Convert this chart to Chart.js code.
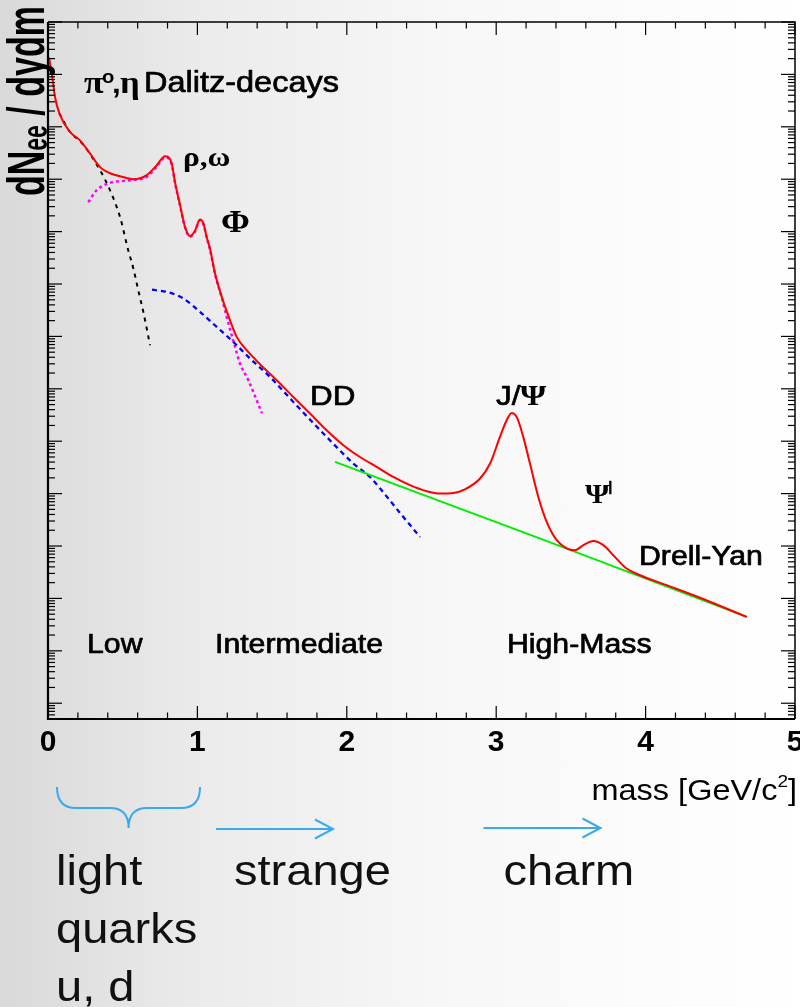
<!DOCTYPE html>
<html><head><meta charset="utf-8">
<script src="https://cdn.jsdelivr.net/npm/chart.js@4.4.1/dist/chart.umd.min.js"></script>
<style>
html,body{margin:0;padding:0;width:800px;height:1007px;overflow:hidden;
background:linear-gradient(to right,#d9d9d9 0%,#ebebeb 25%,#f7f7f7 55%,#ffffff 100%);}
canvas{display:block;}
</style></head><body>
<canvas id="c" width="800" height="1007"></canvas>
<script>
// ---- data (mass in GeV/c^2, yield in arbitrary log units) ----
const xTickValues = [0, 1, 2, 3, 4, 5];
const totalMass = [0.007,0.029,0.047,0.076,0.147,0.214,0.281,0.348,0.415,0.502,0.569,0.661,0.728,0.783,0.828,0.850,0.884,0.917,0.950,0.984,1.017,1.040,1.062,1.084,1.118,1.163,1.218,1.263,1.330,1.419,1.531,1.642,1.754,1.865,1.977,2.088,2.200,2.311,2.423,2.535,2.624,2.713,2.791,2.892,2.959,3.025,3.070,3.104,3.137,3.181,3.226,3.282,3.338,3.405,3.472,3.527,3.583,3.650,3.717,3.784,3.873,3.963,4.141,4.364,4.677];
const totalYield = [2.1e12,8.9e11,3.7e11,1.8e11,8.0e10,5.5e10,3.1e10,1.7e10,1.3e10,1.1e10,1.0e10,1.2e10,1.85e10,2.75e10,2.0e10,8.8e9,3.2e9,1.23e9,8.2e8,1.04e9,1.7e9,1.43e9,7.9e8,4.75e8,1.58e8,5.67e7,2.04e7,9.8e6,5.45e6,2.95e6,1.46e6,7.0e5,3.38e5,1.62e5,8.4e4,5.0e4,3.23e4,2.08e4,1.45e4,1.11e4,1.0e4,1.03e4,1.21e4,1.94e4,3.75e4,1.21e5,2.52e5,3.47e5,2.91e5,1.21e5,3.75e4,8.65e3,2.88e3,1.29e3,900,832,1.04e3,1.25e3,1.04e3,667,372,277,179,103,44.4];
const drellYanMass = [1.921, 3.30, 4.677];
const drellYanYield = [4.03e4, 1.37e3, 44.4];
const charmMass = [0.696,0.795,0.906,1.017,1.129,1.240,1.352,1.486,1.642,1.865,2.044,2.155,2.278,2.356,2.490];
const charmYield = [7.78e7,7.07e7,5.29e7,2.94e7,1.52e7,7.85e6,3.79e6,1.69e6,5.62e5,1.21e5,3.75e4,2.08e4,8.06e3,4.28e3,1.49e3];
const resonanceMass = [0.270,0.326,0.415,0.549,0.661,0.728,0.783,0.828,0.850,0.884,0.917,0.950,0.984,1.017,1.040,1.062,1.084,1.118,1.163,1.196,1.252,1.285,1.341,1.386,1.432];
const resonanceYield = [3.64e9,6.17e9,8.5e9,9.57e9,1.11e10,1.75e10,2.6e10,1.9e10,8.5e9,3.1e9,1.2e9,8.0e8,1.0e9,1.65e9,1.4e9,7.7e8,4.6e8,1.55e8,5.5e7,2.36e7,6.3e6,3.04e6,1.46e6,7.2e5,3.42e5];
const dalitzMass = [0.076,0.147,0.214,0.248,0.348,0.415,0.482,0.537,0.571,0.604,0.638,0.683];
const dalitzYield = [1.8e11,8.0e10,5.3e10,4.13e10,1.49e10,6.17e9,1.91e9,4.42e8,2.0e8,7.62e7,2.94e7,6.8e6];

const pts = (m, v) => m.map((x, i) => ({x: x, y: v[i]}));
const SX = 1.12;
const SANS = '"Liberation Sans", Arial, sans-serif';
const SERIF = '"Liberation Serif", "Times New Roman", serif';

function sText(ctx, txt, x, y, font, align, color, stroke) {
  ctx.save();
  ctx.translate(x, y);
  ctx.scale(SX, 1);
  ctx.font = font;
  ctx.fillStyle = color || '#000';
  ctx.textBaseline = 'alphabetic';
  ctx.textAlign = align || 'left';
  ctx.fillText(txt, 0, 0);
  if (stroke) { ctx.strokeStyle = color || '#000'; ctx.lineWidth = stroke; ctx.lineJoin = 'round'; ctx.strokeText(txt, 0, 0); }
  ctx.restore();
}

const framePlugin = {
  id: 'frame',
  afterDraw(chart) {
    const ctx = chart.ctx, a = chart.chartArea, xs = chart.scales.x, ys = chart.scales.y;
    ctx.save();
    ctx.strokeStyle = '#000';
    const line = (x1, y1, x2, y2) => { ctx.beginPath(); ctx.moveTo(x1, y1); ctx.lineTo(x2, y2); ctx.stroke(); };
    ctx.lineWidth = 2.2;
    ctx.beginPath(); ctx.moveTo(a.left, a.top); ctx.lineTo(a.left, a.bottom); ctx.lineTo(a.right, a.bottom); ctx.stroke();
    ctx.lineWidth = 1.5;
    ctx.beginPath(); ctx.moveTo(a.left, a.top); ctx.lineTo(a.right, a.top); ctx.lineTo(a.right, a.bottom); ctx.stroke();
    ctx.lineWidth = 1.2;
    for (let i = 0; i <= 25; i++) {
      const px = xs.getPixelForValue(i * 0.2);
      const len = i % 5 === 0 ? 13 : 6.5;
      line(px, a.bottom, px, a.bottom - len);
      line(px, a.top, px, a.top + len);
    }
    for (let d = -1; d <= 13; d++) {
      for (let k = 1; k <= 9; k++) {
        const v = k * Math.pow(10, d);
        if (v < ys.min * 0.999 || v > ys.max * 1.001) continue;
        const py = ys.getPixelForValue(v);
        const len = k === 1 ? 14 : 7;
        line(a.left, py, a.left + len, py);
        line(a.right, py, a.right - len, py);
      }
    }
    // in-plot annotations
    const B = 0.7;
    sText(ctx, 'π', 84, 93, 'bold 32px ' + SERIF);
    sText(ctx, 'o', 102, 83, 'bold 18px ' + SANS);
    sText(ctx, ',', 112, 93, 'bold 28px ' + SANS);
    sText(ctx, 'η', 120, 93, 'bold 31px ' + SERIF);
    sText(ctx, 'Dalitz-decays', 144, 92, '29px ' + SANS, 'left', '#000', B);
    sText(ctx, 'ρ,ω', 183, 166, 'bold 28px ' + SERIF);
    sText(ctx, 'Φ', 221, 232, 'bold 31px ' + SERIF);
    sText(ctx, 'DD', 310, 405, '28px ' + SANS, 'left', '#000', B);
    sText(ctx, 'J/', 496, 405, '28px ' + SANS, 'left', '#000', B);
    sText(ctx, 'Ψ', 520, 405, 'bold 30px ' + SERIF);
    sText(ctx, 'Ψ', 585, 503, 'bold 28px ' + SERIF);
    sText(ctx, 'l', 608, 494, '18px ' + SANS, 'left', '#000', 0.5);
    sText(ctx, 'Drell-Yan', 639, 565, '27px ' + SANS, 'left', '#000', B);
    sText(ctx, 'Low', 87, 653, '27px ' + SANS, 'left', '#000', B);
    sText(ctx, 'Intermediate', 215, 653, '27px ' + SANS, 'left', '#000', B);
    sText(ctx, 'High-Mass', 507, 653, '27px ' + SANS, 'left', '#000', B);
    // x-axis title, right-aligned at the frame edge
    ctx.save();
    ctx.translate(797, 800);
    ctx.scale(SX, 1);
    ctx.fillStyle = '#000'; ctx.textAlign = 'right'; ctx.textBaseline = 'alphabetic';
    let xr = 0;
    ctx.font = '29px ' + SANS; ctx.fillText(']', xr, 0); xr -= ctx.measureText(']').width;
    ctx.font = '17px ' + SANS; ctx.fillText('2', xr, -13); xr -= ctx.measureText('2').width;
    ctx.font = '29px ' + SANS; ctx.fillText('mass [GeV/c', xr, 0);
    ctx.restore();
    // y-axis title (rotated, partly clipped at the left edge)
    ctx.save();
    ctx.translate(44, 196);
    ctx.rotate(-Math.PI / 2);
    ctx.scale(1, 1.5);
    ctx.fillStyle = '#000'; ctx.textAlign = 'left'; ctx.textBaseline = 'alphabetic';
    let xx = 0;
    ctx.font = 'bold 34px ' + SANS; ctx.fillText('dN', xx, 0); xx += ctx.measureText('dN').width;
    ctx.font = 'bold 23px ' + SANS; ctx.fillText('ee', xx, 2); xx += ctx.measureText('ee').width;
    ctx.font = 'bold 34px ' + SANS; ctx.fillText(' / dydm', xx, 0);
    ctx.restore();
    // bottom annotations
    const big = '42px ' + SANS;
    sText(ctx, 'light', 56, 885, big, 'left', '#111');
    sText(ctx, 'quarks', 56, 943, big, 'left', '#111');
    sText(ctx, 'u, d', 56, 1001, big, 'left', '#111');
    sText(ctx, 'strange', 234, 885, big, 'left', '#111');
    sText(ctx, 'charm', 503.6, 885, big, 'left', '#111');
    ctx.strokeStyle = '#3aa9ee';
    ctx.lineWidth = 2;
    ctx.beginPath();
    ctx.moveTo(57, 787);
    ctx.quadraticCurveTo(57, 808, 76, 808);
    ctx.lineTo(110, 808);
    ctx.quadraticCurveTo(128.6, 808, 128.6, 828);
    ctx.quadraticCurveTo(128.6, 808, 147, 808);
    ctx.lineTo(181, 808);
    ctx.quadraticCurveTo(200, 808, 200, 787);
    ctx.stroke();
    const arrow = (x1, x2, yy) => {
      ctx.beginPath(); ctx.moveTo(x1, yy); ctx.lineTo(x2, yy); ctx.stroke();
      ctx.beginPath(); ctx.moveTo(x2 - 18, yy - 9.5); ctx.lineTo(x2, yy); ctx.lineTo(x2 - 18, yy + 9.5); ctx.stroke();
    };
    arrow(216, 333, 829);
    arrow(483.5, 600.5, 828);
    ctx.restore();
  }
};

new Chart(document.getElementById('c'), {
  type: 'line',
  data: {
    datasets: [
      {label: 'total', data: pts(totalMass, totalYield), borderColor: '#ff0000', borderWidth: 2, pointRadius: 0, cubicInterpolationMode: 'monotone', fill: false},
      {label: 'Drell-Yan', data: pts(drellYanMass, drellYanYield), borderColor: '#00ee00', borderWidth: 2, pointRadius: 0, tension: 0, fill: false},
      {label: 'charm', data: pts(charmMass, charmYield), borderColor: '#0000ff', borderWidth: 2.3, borderDash: [5, 4], pointRadius: 0, cubicInterpolationMode: 'monotone', fill: false},
      {label: 'resonances', data: pts(resonanceMass, resonanceYield), borderColor: '#ff00ff', borderWidth: 2.5, borderDash: [3, 3], pointRadius: 0, cubicInterpolationMode: 'monotone', fill: false},
      {label: 'Dalitz', data: pts(dalitzMass, dalitzYield), borderColor: '#000000', borderWidth: 2, borderDash: [4, 5], pointRadius: 0, cubicInterpolationMode: 'monotone', fill: false}
    ]
  },
  options: {
    responsive: false,
    animation: false,
    devicePixelRatio: 1,
    layout: {padding: {left: 48, right: 5, top: 22, bottom: 248}},
    plugins: {legend: {display: false}, tooltip: {enabled: false}},
    scales: {
      x: {
        type: 'linear', min: 0, max: 5,
        grid: {display: false, drawTicks: false}, border: {display: false},
        afterBuildTicks(s) { s.ticks = xTickValues.map(v => ({value: v})); },
        ticks: {padding: 6, maxRotation: 0, autoSkip: false, color: '#000',
          callback: v => String(v),
          font: {family: SANS, size: 30, weight: 'bold'}},
        afterFit(s) { s.height = 40; s.paddingLeft = 0; s.paddingRight = 0; }
      },
      y: {
        type: 'logarithmic', min: 0.5, max: 1e13,
        grid: {display: false, drawTicks: false}, border: {display: false},
        ticks: {display: false},
        afterFit(s) { s.width = 0; }
      }
    }
  },
  plugins: [framePlugin]
});
</script>
</body></html>
